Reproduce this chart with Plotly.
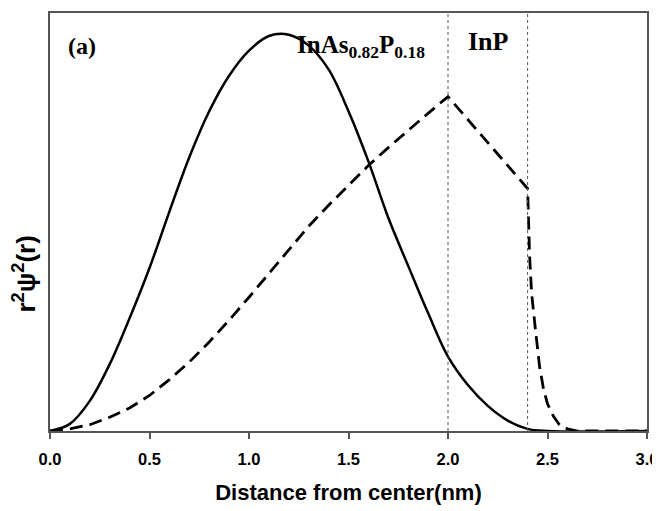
import plotly.graph_objects as go

# Solid curve (InAs0.82P0.18 core state)
solid_r = [0.0, 0.1, 0.2, 0.3, 0.4, 0.5, 0.6, 0.7, 0.8, 0.9, 1.0, 1.1, 1.2,
           1.3, 1.4, 1.5, 1.6, 1.7, 1.8, 1.9, 2.0, 2.1, 2.2, 2.3, 2.4, 2.5, 3.0]
solid_v = [0.0, 0.017, 0.072, 0.16, 0.27, 0.39, 0.525, 0.655, 0.765, 0.85, 0.91, 0.945, 0.948,
           0.922, 0.865, 0.765, 0.645, 0.51, 0.395, 0.282, 0.178, 0.11, 0.06, 0.025, 0.005, 0.0, 0.0]

# Dashed curve
dash_r = [0.0, 0.1, 0.2, 0.3, 0.4, 0.5, 0.6, 0.7, 0.8, 0.9, 1.0, 1.1, 1.2, 1.3, 1.4, 1.5, 1.6,
          1.7, 1.8, 1.9, 2.0, 2.4, 2.41, 2.42, 2.44, 2.46, 2.48, 2.5, 2.53, 2.56, 2.6, 2.65, 3.0]
dash_v = [0.0, 0.005, 0.015, 0.033, 0.055, 0.085, 0.123, 0.165, 0.213, 0.265, 0.32, 0.377, 0.435, 0.49,
          0.54, 0.588, 0.635, 0.678, 0.72, 0.76, 0.80, 0.58, 0.42, 0.33, 0.24, 0.155, 0.10, 0.065,
          0.035, 0.015, 0.005, 0.0, 0.0]

boundaries = [2.0, 2.4]
x_ticks = [0.0, 0.5, 1.0, 1.5, 2.0, 2.5, 3.0]
x_tick_labels = ["0.0", "0.5", "1.0", "1.5", "2.0", "2.5", "3.0"]

fig = go.Figure()
fig.add_trace(go.Scatter(x=dash_r, y=dash_v, mode="lines",
                         line=dict(color="black", width=2.8, dash="13px,7px"), showlegend=False))
fig.add_trace(go.Scatter(x=solid_r, y=solid_v, mode="lines",
                         line=dict(color="black", width=2.5, shape="spline", smoothing=1.0), showlegend=False))

for b in boundaries:
    fig.add_shape(type="line", x0=b, x1=b, y0=0, y1=1, xref="x", yref="y",
                  line=dict(color="#555555", width=1, dash="dot"))

serif = "Liberation Serif"
fig.add_annotation(x=0.16, y=0.922, text="<b>(a)</b>", showarrow=False,
                   font=dict(family=serif, size=24, color="black"))
fig.add_annotation(x=1.565, y=0.92, text="<b>InAs<sub>0.82</sub>P<sub>0.18</sub></b>", showarrow=False,
                   font=dict(family=serif, size=25, color="black"))
fig.add_annotation(x=2.204, y=0.933, text="<b>InP</b>", showarrow=False,
                   font=dict(family=serif, size=26, color="black"))
fig.add_annotation(x=-0.043, xref="paper", y=0.375, yref="paper", xanchor="center", yanchor="middle",
                   text="<b>r<sup>2</sup>ψ<sup>2</sup>(r)</b>", textangle=-90, showarrow=False,
                   font=dict(family="Liberation Sans", size=26, color="black"))

fig.update_xaxes(range=[0, 3], tickvals=x_ticks, ticktext=x_tick_labels, automargin=False,
                 showgrid=False, zeroline=False, showline=True, mirror=True,
                 linecolor="#555555", linewidth=2, ticks="outside", ticklen=6, tickcolor="#555555",
                 tickwidth=1.5, ticklabelstandoff=6,
                 tickfont=dict(family="Liberation Sans", size=16.5, color="black", weight="bold"),
                 title=dict(text="Distance from center(nm)", standoff=18,
                            font=dict(family="Liberation Sans", size=22, color="black", weight="bold")))
fig.update_yaxes(range=[0, 1], showgrid=False, zeroline=False, showline=True, mirror=True, automargin=False,
                 linecolor="#555555", linewidth=2, showticklabels=False, ticks="")

fig.update_layout(width=652, height=503, margin=dict(l=42, r=13, t=5, b=80),
                  plot_bgcolor="white", paper_bgcolor="white")

fig.write_html("out.html")
